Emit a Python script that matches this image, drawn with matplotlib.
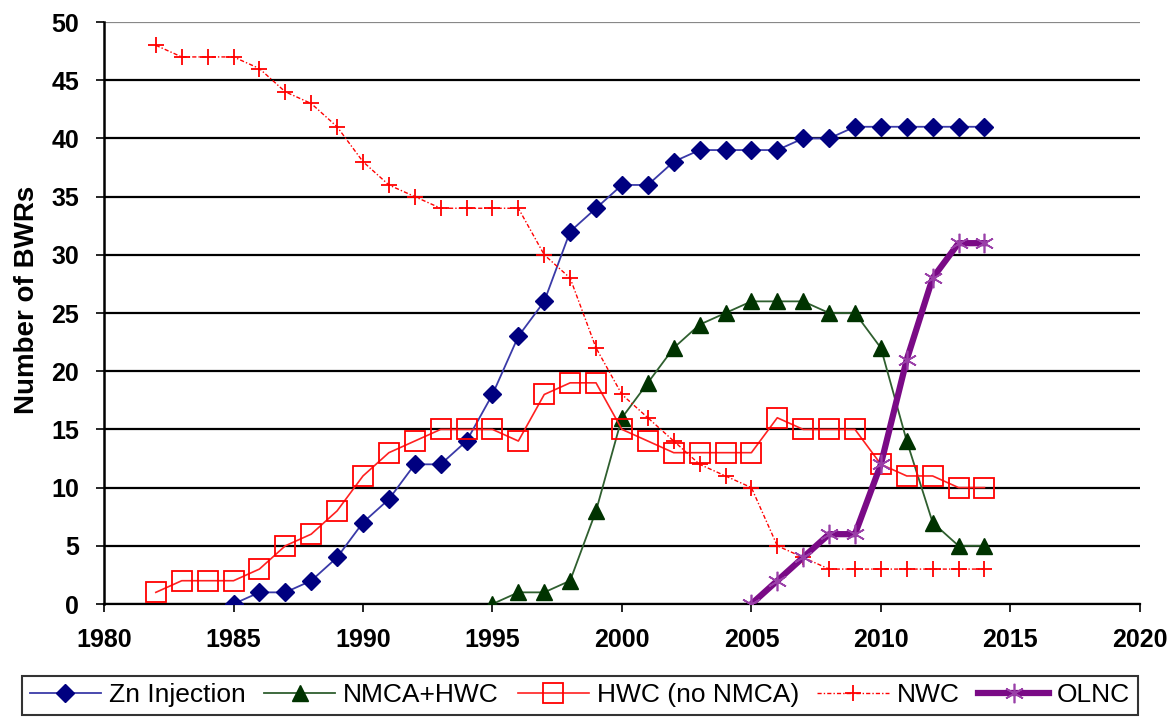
import matplotlib
matplotlib.use("Agg")
import matplotlib.pyplot as plt
from matplotlib import font_manager

years_zn = list(range(1985, 2015))
zn = [0, 1, 1, 2, 4, 7, 9, 12, 12, 14, 18, 23, 26, 32, 34, 36, 36, 38, 39, 39,
      39, 39, 40, 40, 41, 41, 41, 41, 41, 41]

years_nmca = list(range(1995, 2015))
nmca = [0, 1, 1, 2, 8, 16, 19, 22, 24, 25, 26, 26, 26, 25, 25, 22, 14, 7, 5, 5]

years_hwc = list(range(1982, 2015))
hwc = [1, 2, 2, 2, 3, 5, 6, 8, 11, 13, 14, 15, 15, 15, 14, 18, 19, 19, 15, 14,
       13, 13, 13, 13, 16, 15, 15, 15, 12, 11, 11, 10, 10]

years_nwc = list(range(1982, 2015))
nwc = [48, 47, 47, 47, 46, 44, 43, 41, 38, 36, 35, 34, 34, 34, 34, 30, 28, 22, 18, 16,
       14, 12, 11, 10, 5, 4, 3, 3, 3, 3, 3, 3, 3]

years_olnc = list(range(2005, 2015))
olnc = [0, 2, 4, 6, 6, 12, 21, 28, 31, 31]

labels = ["Zn Injection", "NMCA+HWC", "HWC (no NMCA)", "NWC", "OLNC"]
x_ticks = [1980, 1985, 1990, 1995, 2000, 2005, 2010, 2015, 2020]
y_ticks = list(range(0, 51, 5))

avail = {f.name for f in font_manager.fontManager.ttflist}
tick_font = "Liberation Sans" if "Liberation Sans" in avail else "DejaVu Sans"
leg_font = "Liberation Sans Narrow" if "Liberation Sans Narrow" in avail else tick_font

fig = plt.figure(figsize=(11.73, 7.17), dpi=100)
ax = fig.add_axes([0.0887, 0.1576, 0.8830, 0.8117])

ax.set_xlim(1980, 2020)
ax.set_ylim(0, 50)
for y in y_ticks:
    ax.axhline(y, color="black" if y < 50 else "#888888", lw=1.6, zorder=1)

ax.plot(years_zn, zn, color="#3a3aa8", lw=1.3, marker="D", ms=9,
        mfc="#000080", mec="#000080", label=labels[0], zorder=3)
ax.plot(years_nmca, nmca, color="#2f5f2f", lw=1.3, marker="^", ms=12,
        mfc="#003300", mec="#003300", label=labels[1], zorder=3)
ax.plot(years_hwc, hwc, color="#ff2020", lw=1.2, marker="s", ms=15,
        mfc="none", mec="#ff0000", mew=1.3, label=labels[2], zorder=3)
ax.plot(years_nwc, nwc, color="#ff0000", lw=1.0, ls=(0, (3, 1.5, 1, 1.5)), marker="+", ms=11,
        mew=1.3, mec="#ff0000", label=labels[3], zorder=3)
ax.plot(years_olnc, olnc, color="#7a0a86", lw=4.5, marker=(6, 2, 0), ms=14,
        mew=1.2, mec="#9a40a8", label=labels[4], zorder=4)

for s in ["top", "right"]:
    ax.spines[s].set_visible(False)
ax.spines["left"].set_linewidth(1.8)
ax.spines["bottom"].set_linewidth(1.6)

ax.set_xticks(x_ticks)
ax.set_yticks(y_ticks)
ax.tick_params(axis="both", direction="out", length=6, width=1.2, labelsize=18)
ax.tick_params(axis="x", pad=11)
ax.tick_params(axis="y", pad=12)
for lab in ax.get_xticklabels() + ax.get_yticklabels():
    lab.set_fontweight("bold")
    lab.set_fontfamily(tick_font)
ax.set_ylabel("Number of BWRs", fontsize=20, fontweight="bold", fontfamily=tick_font)
ax.yaxis.set_label_coords(-0.062, 0.522)

leg = fig.legend(loc="center", bbox_to_anchor=(0.4945, 0.030), ncol=5, frameon=True,
                 fancybox=False, edgecolor="black", handlelength=2.7, columnspacing=0.7,
                 handletextpad=0.3, borderpad=0.3, borderaxespad=0.0,
                 prop={"family": leg_font, "size": 19})
leg.get_frame().set_linewidth(1.5)

fig.savefig("out.png", dpi=100)
